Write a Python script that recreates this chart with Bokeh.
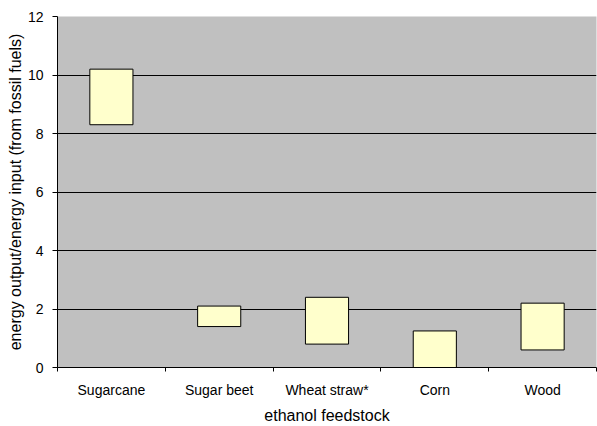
from bokeh.plotting import figure
from bokeh.models import Range1d, FixedTicker
from bokeh.embed import file_html
from bokeh.resources import INLINE

categories = ["Sugarcane", "Sugar beet", "Wheat straw*", "Corn", "Wood"]
low_values = [8.3, 1.4, 0.8, 0.0, 0.6]
high_values = [10.2, 2.1, 2.4, 1.25, 2.2]
y_ticks = [0, 2, 4, 6, 8, 10, 12]
grid_ticks = [2, 4, 6, 8, 10]

FONT = "Liberation Sans"

n = len(categories)
centers = [i + 0.5 for i in range(n)]
bounds = list(range(n + 1))

p = figure(
    width=597, height=426,
    x_range=Range1d(0, n),
    y_range=Range1d(0, 12),
    output_backend="svg", toolbar_location=None,
    min_border_left=57, min_border_right=1, min_border_top=16, min_border_bottom=0,
)
p.background_fill_color = "#C0C0C0"
p.border_fill_color = "white"
p.outline_line_color = None

p.vbar(x=centers, bottom=low_values, top=high_values, width=0.4,
       fill_color="#FFFFCC", line_color="black", line_width=1)

# y axis
ya = p.yaxis[0]
ya.ticker = FixedTicker(ticks=y_ticks)
ya.axis_line_color = "black"
ya.major_tick_line_color = "black"
ya.major_tick_out = 5
ya.major_tick_in = 0
ya.minor_tick_line_color = None
ya.major_label_text_font = FONT
ya.major_label_text_font_size = "14px"
ya.major_label_text_color = "black"
ya.major_label_standoff = 9
ya.axis_label = "energy output/energy input (from fossil fuels)"
ya.axis_label_text_font = FONT
ya.axis_label_text_font_size = "16px"
ya.axis_label_text_font_style = "normal"
ya.axis_label_text_color = "black"
ya.axis_label_standoff = 1

p.xgrid.visible = False
p.ygrid.ticker = FixedTicker(ticks=grid_ticks)
p.ygrid.grid_line_color = "black"
p.ygrid.grid_line_width = 1

# x axis: labels at category centres, tick marks between categories
xa = p.xaxis[0]
xa.ticker = FixedTicker(ticks=centers, minor_ticks=bounds)
xa.major_label_overrides = {c: lab for c, lab in zip(centers, categories)}
xa.axis_line_color = "black"
xa.major_tick_line_color = None
xa.major_tick_out = 0
xa.major_tick_in = 0
xa.minor_tick_line_color = "black"
xa.minor_tick_out = 4
xa.minor_tick_in = 0
xa.major_label_text_font = FONT
xa.major_label_text_font_size = "14px"
xa.major_label_text_color = "black"
xa.major_label_standoff = 10
xa.axis_label = "ethanol feedstock"
xa.axis_label_text_font = FONT
xa.axis_label_text_font_size = "16px"
xa.axis_label_text_font_style = "normal"
xa.axis_label_text_color = "black"
xa.axis_label_standoff = 6

open("out.html", "w").write(file_html(p, INLINE))
